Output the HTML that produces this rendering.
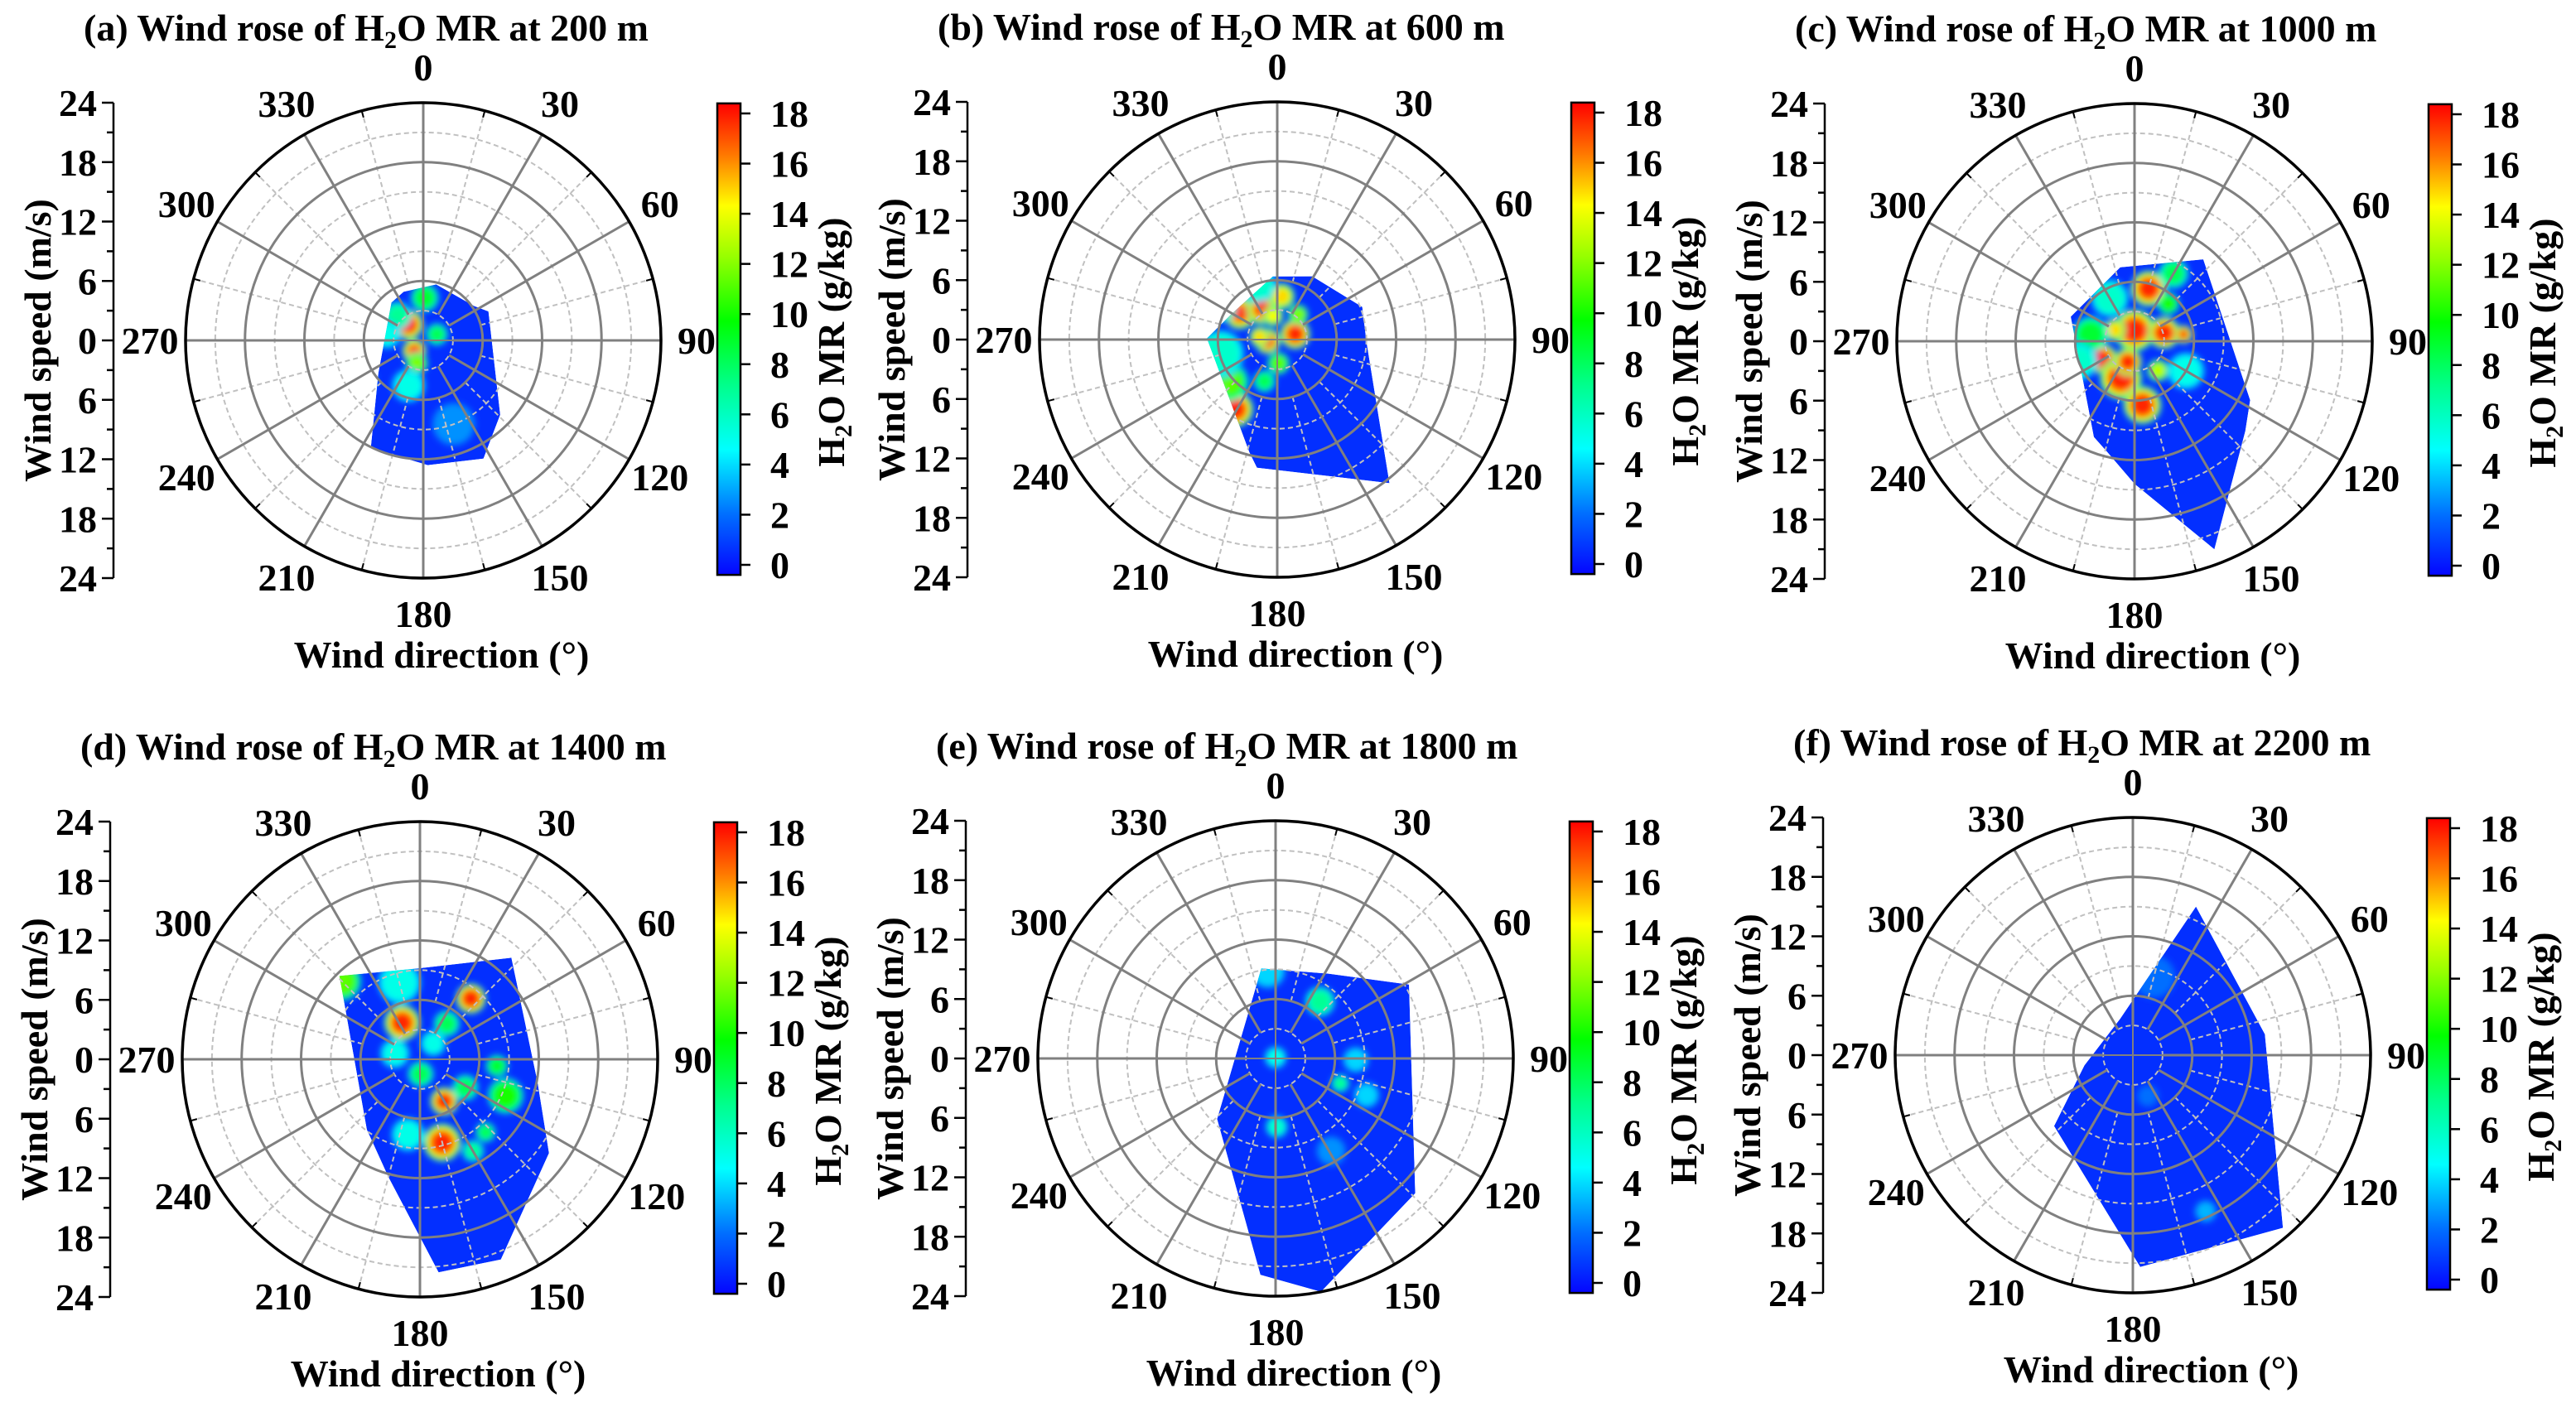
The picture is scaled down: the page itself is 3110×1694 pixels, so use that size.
<!DOCTYPE html>
<html><head><meta charset="utf-8"><style>
html,body{margin:0;padding:0;background:#fff}
svg{display:block}
text{font-family:"Liberation Serif",serif;font-weight:bold;fill:#000}
</style></head><body>
<svg id="fig" xmlns="http://www.w3.org/2000/svg" width="3110" height="1694" viewBox="0 0 3110 1694">
<defs>
<linearGradient id="cbar" x1="0" y1="1" x2="0" y2="0">
<stop offset="0" stop-color="#0505ff"/><stop offset="0.128" stop-color="#006eff"/>
<stop offset="0.266" stop-color="#00ffff"/><stop offset="0.402" stop-color="#00ff8c"/>
<stop offset="0.538" stop-color="#00ff00"/><stop offset="0.674" stop-color="#96ff00"/>
<stop offset="0.783" stop-color="#ffff00"/><stop offset="0.891" stop-color="#ff7800"/>
<stop offset="1" stop-color="#ff0000"/></linearGradient>
<filter id="blur" x="-20%" y="-20%" width="140%" height="140%"><feGaussianBlur stdDeviation="4"/></filter>
</defs>
</svg>
<script>
const panelLetters = ["a","b","c","d","e","f"];
const heights = [200, 600, 1000, 1400, 1800, 2200];
const speedTicks = [24, 18, 12, 6, 0, 6, 12, 18, 24];
const dirLabels = [0, 30, 60, 90, 120, 150, 180, 210, 240, 270, 300, 330];
const cbarTicks = [0, 2, 4, 6, 8, 10, 12, 14, 16, 18];
// boundary polygons: [direction deg, speed m/s]
const boundaryA = [[13,5.8],[56,6.2],[66,7.2],[134,10.8],[153,13.4],[178,12.6],[206,12.1],[234,5.6],[320,5.0],[338,5.3]];
const boundaryB = [[356,6.4],[29,7.3],[69,9.2],[91,9.0],[142,18.4],[189,13.1],[194,11.7],[271,7.1],[299,5.3]];
const boundaryC = [[349,7.6],[40,10.8],[117,13.1],[129,14.4],[159,22.5],[180,14.4],[194,11.5],[203,10.5],[291,6.9]];
const boundaryD = [[316,11.7],[360,9.2],[42,13.8],[101,12.1],[126,16.1],[158,21.8],[175,21.6],[195,12.3],[217,8.9]];
const boundaryE = [[351,9.2],[32,10.1],[61,15.4],[134,19.6],[169,24],[184,21.9],[224,8.5]];
const boundaryF = [[23,16.3],[81,13.5],[139,23.1],[178,21.4],[228,10.7],[258,5.0],[341,3.9]];
// hotspots: [direction deg, speed m/s, H2O MR g/kg, spread m/s]
const hotA = [[317,2.2,18,1.5],[220,1.4,17,1.2],[2,4.3,9,1.4],[66,1.5,8,1.1],[196,2.4,12,1.1],[314,3.6,7,1.4],[198,4.8,5,1.7],[279,3.7,5,1.4],[240,8,3.5,2.2],[160,9,3,2.2]];
const hotB = [[305,4.6,17,1.6],[333,3.4,17,1.5],[6,4.4,15,1.3],[350,2.4,14,1.0],[73,1.9,18,1.5],[262,1.0,17,1.3],[279,1.8,15,1.0],[211,8.2,18,1.8],[229,6.5,11,2.0],[177,2.4,11,1.1],[197,4.4,8,1.1],[40,3.3,12,1.0],[256,5.9,6,2.4],[340,6,6,1.9],[300,6.5,7,1.5],[230,9.5,9,2.0]];
const hotC = [[0,1.1,18,2.1],[15,5.5,18,1.8],[74,3.1,18,1.6],[82,5.0,17,0.9],[300,2.3,15,1.1],[241,3.7,18,1.5],[200,4.0,18,2.1],[198,2.2,18,1.4],[173,6.5,18,1.9],[141,3.8,13,1.1],[42,5.1,10,1.1],[30,7.9,8,1.5],[279,4.5,9,1.8],[330,5,6,1.9],[250,6,6,1.9],[120,6,5,1.9]];
const hotD = [[334,4.1,18,1.8],[40,8.0,18,1.5],[150,4.9,18,1.4],[165,8.7,18,1.9],[315,11.1,11,1.9],[37,4.5,8,1.3],[95,7.8,9,1.1],[113,9.4,10,1.8],[177,1.5,8,1.3],[122,5.4,8,1.3],[138,9.9,8,1.0],[150,10.7,7,1.1],[40,2.1,5,1.3],[283,2.6,5,1.5],[189,7.7,5,1.7],[345,8,5,2.2]];
const hotE = [[0,0.1,5,1.1],[38,7.3,7,1.5],[111,7.0,7,0.9],[179,6.9,6,1.1],[91,8.1,4,1.3],[112,9.9,4,1.3],[355,8.9,4,1.8],[149,10.9,3,1.5]];
const hotF = [[155,17.4,3.5,1.1],[160,4.4,2.5,1.1],[15,8.2,2,2.2]];
const boundaries = [boundaryA, boundaryB, boundaryC, boundaryD, boundaryE, boundaryF];
const hotspots = [hotA, hotB, hotC, hotD, hotE, hotF];
const baseValue = 0.8;

const NS = "http://www.w3.org/2000/svg";
const svg = document.getElementById("fig");
const centers = [[511,411],[1542,410],[2577,412],[507,1279],[1540,1278],[2575,1274]];
const RMAX = 24, RPX = 287, K = RPX / RMAX;
const VMIN = -0.4, VMAX = 18.4;
const FS = 46;

function mk(tag, attrs, parent) {
  const e = document.createElementNS(NS, tag);
  for (const k in attrs) e.setAttribute(k, attrs[k]);
  parent.appendChild(e);
  return e;
}
const stops = [[0,[5,5,255]],[2,[0,110,255]],[4.5,[0,255,255]],[7,[0,255,140]],[9.5,[0,255,0]],[12,[150,255,0]],[14,[255,255,0]],[16,[255,120,0]],[18.4,[255,0,0]]];
function cmap(v) {
  if (v <= stops[0][0]) return "rgb(" + stops[0][1].join(",") + ")";
  for (let i = 1; i < stops.length; i++) {
    if (v <= stops[i][0]) {
      const t = (v - stops[i-1][0]) / (stops[i][0] - stops[i-1][0]);
      const a = stops[i-1][1], b = stops[i][1];
      return "rgb(" + [0,1,2].map(j => Math.round(a[j] + (b[j]-a[j]) * t)).join(",") + ")";
    }
  }
  return "rgb(255,0,0)";
}
function polar(cx, cy, dir, spd) {
  const a = dir * Math.PI / 180;
  return [cx + spd * K * Math.sin(a), cy - spd * K * Math.cos(a)];
}
function txt(parent, x, y, s, size, anchor) {
  const t = mk("text", {x: x, y: y, "font-size": size, "text-anchor": anchor || "middle"}, parent);
  t.textContent = s;
  return t;
}

for (let p = 0; p < 6; p++) {
  const [cx, cy] = centers[p];
  const g = mk("g", {}, svg);
  
  

  const title = mk("text", {x: cx - 410, y: cy - 362, "font-size": FS}, g);
  
  
  title.innerHTML = '(' + panelLetters[p] + ') Wind rose of H<tspan baseline-shift="-30%" font-size="30">2</tspan>O MR at ' + heights[p] + ' m';

  const clipId = "clip" + p;
  const cp = mk("clipPath", {id: clipId}, g);
  const ptsStr = boundaries[p].map(d => polar(cx, cy, d[0], d[1]).map(v => v.toFixed(1)).join(",")).join(" ");
  mk("polygon", {points: ptsStr}, cp);
  const heat = mk("g", {"clip-path": "url(#" + clipId + ")"}, g);
  
  
  const bg = mk("polygon", {points: ptsStr, fill: cmap(baseValue)}, heat);
  
  
  const blobs = mk("g", {filter: "url(#blur)"}, heat);
  hotspots[p].forEach(h => {
    const [dir, spd, val, spread] = h;
    const [hx, hy] = polar(cx, cy, dir, spd);
    const hg = mk("g", {}, blobs);
    
    
    for (let L = baseValue + 0.6; L <= val; L += 0.6) {
      const f = Math.pow((L - baseValue) / (val + 2 - baseValue), 2.2);
      const r = spread * K * Math.sqrt(Math.max(0, 1 - f));
      if (r < 1) continue;
      mk("circle", {cx: hx.toFixed(1), cy: hy.toFixed(1), r: r.toFixed(1), fill: cmap(L)}, hg);
    }
  });

  const grid = mk("g", {fill: "none"}, g);
  
  
  for (let r = 3; r < 24; r += 6) {
    const c = mk("circle", {cx: cx, cy: cy, r: r * K, stroke: "#c0c0c0", "stroke-width": 2, "stroke-dasharray": "6,4"}, grid);
    
    
  }
  for (let d = 15; d < 360; d += 30) {
    const a = polar(cx, cy, d, 6), b = polar(cx, cy, d, 24);
    const l = mk("line", {x1: a[0], y1: a[1], x2: b[0], y2: b[1], stroke: "#c0c0c0", "stroke-width": 2, "stroke-dasharray": "6,4"}, grid);
    
    
  }
  for (let r = 6; r < 24; r += 6) {
    const c = mk("circle", {cx: cx, cy: cy, r: r * K, stroke: "#808080", "stroke-width": 3}, grid);
    
    
  }
  for (let d = 0; d < 360; d += 30) {
    const a = polar(cx, cy, d, 3), b = polar(cx, cy, d, 24);
    const l = mk("line", {x1: a[0], y1: a[1], x2: b[0], y2: b[1], stroke: "#808080", "stroke-width": 3}, grid);
    
    
  }
  [[0,180],[90,270]].forEach(pair => {
    const a = polar(cx, cy, pair[0], 24), b = polar(cx, cy, pair[1], 24);
    const l = mk("line", {x1: a[0], y1: a[1], x2: b[0], y2: b[1], stroke: "#808080", "stroke-width": 2}, grid);
    
    
  });
  for (let d = 15; d < 360; d += 30) {
    const a = polar(cx, cy, d, 24), b = polar(cx, cy, d, 23.3);
    mk("line", {x1: a[0], y1: a[1], x2: b[0], y2: b[1], stroke: "#000", "stroke-width": 2}, grid);
  }
  const outer = mk("circle", {cx: cx, cy: cy, r: RPX, stroke: "#000", "stroke-width": 3.5}, grid);
  
  

  dirLabels.forEach(d => {
    const [x, y] = polar(cx, cy, d, 330 / K);
    const t = txt(g, x.toFixed(1), (y + 16).toFixed(1), String(d), FS);
    
    
  });

  const ax = mk("g", {}, g);
  
  
  const axX = cx - 374;
  mk("line", {x1: axX, y1: cy - RPX, x2: axX, y2: cy + RPX, stroke: "#000", "stroke-width": 2.5}, ax);
  for (let i = 0; i <= 16; i++) {
    const y = cy - RPX + i * 3 * K;
    mk("line", {x1: axX, y1: y, x2: axX - (i % 2 === 0 ? 14 : 8), y2: y, stroke: "#000", "stroke-width": 2.5}, ax);
  }
  speedTicks.forEach((v, i) => {
    const y = cy - RPX + i * 6 * K;
    const t = txt(ax, axX - 20, y + 16, String(v), FS, "end");
    
    
  });
  const yt = txt(g, 0, 0, "Wind speed (m/s)", FS);
  yt.setAttribute("transform", "translate(" + (cx - 450) + "," + cy + ") rotate(-90)");
  
  
  const xt = txt(g, cx + 22, cy + 395, "Wind direction (°)", FS);
  
  

  const cb = mk("g", {}, g);
  
  
  const cbX = cx + 355, cbW = 28;
  const vy = v => cy + 271 - v * 30.28;
  const rect = mk("rect", {x: cbX, y: vy(VMAX), width: cbW, height: vy(VMIN) - vy(VMAX), fill: "url(#cbar)", stroke: "#000", "stroke-width": 2.5}, cb);
  
  
  cbarTicks.forEach(v => {
    mk("line", {x1: cbX + cbW, y1: vy(v), x2: cbX + cbW + 12, y2: vy(v), stroke: "#000", "stroke-width": 2.5}, cb);
    const t = txt(cb, cbX + 64, vy(v) + 16, String(v), FS, "start");
    
    
  });
  const ct = mk("text", {x: 0, y: 0, "font-size": FS, "text-anchor": "middle", transform: "translate(" + (cx + 508) + "," + (cy + 2) + ") rotate(-90)"}, cb);
  ct.innerHTML = 'H<tspan baseline-shift="-30%" font-size="30">2</tspan>O MR (g/kg)';
  
  
}
</script>
</body></html>
